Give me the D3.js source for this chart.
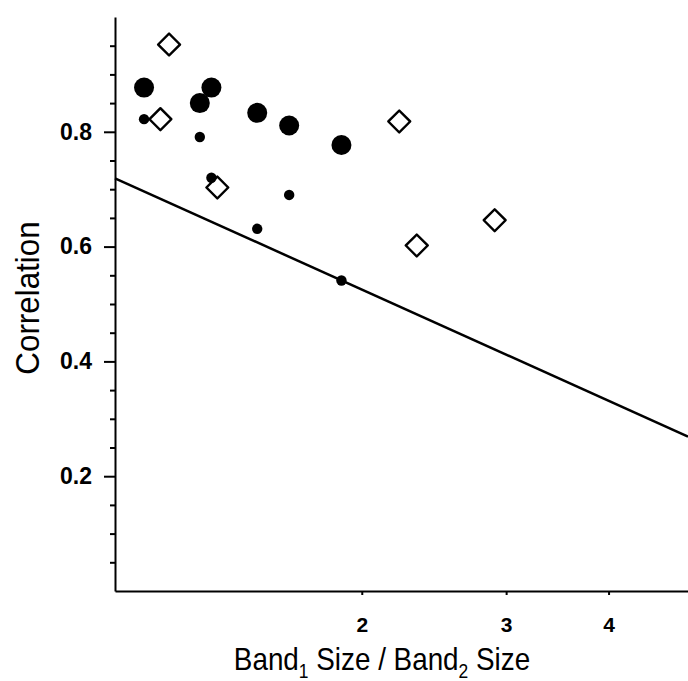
<!DOCTYPE html>
<html lang="en"><head>
<meta charset="utf-8">
<title>correlation vs band size ratio</title>
<script src="https://cdn.jsdelivr.net/npm/d3@7"></script>
<style>
  body { margin: 0; background: #fff; }
  svg { display: block; font-family: "Liberation Sans", Arial, sans-serif; }
</style>
</head>
<body>
<svg width="688" height="681"></svg>
<script>
// values
var bandRatio   = [1.085, 1.269, 1.311, 1.491, 1.631, 1.889];   // x for both circle series
var corrLarge   = [0.877, 0.850, 0.877, 0.833, 0.811, 0.777];
var corrSmall   = [0.822, 0.791, 0.720, 0.631, 0.690, 0.541];
var diamondRatio = [1.136, 1.164, 1.333, 2.222, 2.334, 2.905];
var corrDiamond  = [0.822, 0.952, 0.703, 0.818, 0.602, 0.646];
var fitX = [1, 5];
var fitY = [0.719, 0.269];
var xTicks = [2, 3, 4];
var yTicks = [0.2, 0.4, 0.6, 0.8];
var yMinor = [0.05, 0.1, 0.15, 0.25, 0.3, 0.35, 0.45, 0.5, 0.55, 0.65, 0.7, 0.75, 0.85, 0.9, 0.95];

var svg = d3.select("svg");

var x = d3.scaleLog().domain([1, 5]).range([115, 688]);
var y = d3.scaleLinear().domain([0, 1]).range([591, 17]);

// minor ticks on y
svg.append("g")
    .attr("transform", "translate(115,0)")
    .call(d3.axisLeft(y).tickValues(yMinor).tickSize(5).tickFormat(""))
    .call(function(g){ g.select(".domain").remove(); })
    .selectAll("line").attr("stroke", "#000").attr("stroke-width", 2);

// major y axis
var yAxis = svg.append("g")
    .attr("transform", "translate(115,0)")
    .call(d3.axisLeft(y).tickValues(yTicks).tickSize(11).tickSizeOuter(0).tickPadding(12).tickFormat(d3.format(".1f")));
yAxis.select(".domain").attr("stroke", "#000").attr("stroke-width", 2);
yAxis.selectAll("line").attr("stroke", "#000").attr("stroke-width", 2);
yAxis.selectAll("text")
    .attr("font-size", 23).attr("font-weight", "bold").attr("fill", "#000")
    .attr("font-family", "Liberation Sans, Arial, sans-serif");

// x axis
var xAxis = svg.append("g")
    .attr("transform", "translate(0,591)")
    .call(d3.axisBottom(x).tickValues(xTicks).tickSize(4).tickSizeOuter(0).tickPadding(22).tickFormat(d3.format("d")));
xAxis.select(".domain").attr("stroke", "#000").attr("stroke-width", 2);
xAxis.selectAll("line").attr("stroke", "#000").attr("stroke-width", 2);
xAxis.selectAll("text")
    .attr("font-size", 21).attr("font-weight", "bold").attr("fill", "#000")
    .attr("font-family", "Liberation Sans, Arial, sans-serif");

// fitted line
var fit = fitX.map(function(d, i){ return [d, fitY[i]]; });
svg.append("path")
    .datum(fit)
    .attr("fill", "none")
    .attr("stroke", "#000")
    .attr("stroke-width", 2.5)
    .attr("d", d3.line().x(function(d){ return x(d[0]); }).y(function(d){ return y(d[1]); }));

// open diamonds
var diamonds = diamondRatio.map(function(d, i){ return {x: d, y: corrDiamond[i]}; });
svg.selectAll("path.diamond")
    .data(diamonds)
    .enter().append("path")
    .attr("class", "diamond")
    .attr("d", d3.symbol().type(d3.symbolSquare).size(240))
    .attr("transform", function(d){ return "translate(" + x(d.x) + "," + y(d.y) + ") rotate(45)"; })
    .attr("fill", "#fff")
    .attr("stroke", "#000")
    .attr("stroke-width", 2.4)
    .attr("stroke-linejoin", "round");

// big filled circles
var large = bandRatio.map(function(d, i){ return {x: d, y: corrLarge[i]}; });
svg.selectAll("circle.large")
    .data(large)
    .enter().append("circle")
    .attr("class", "large")
    .attr("cx", function(d){ return x(d.x); })
    .attr("cy", function(d){ return y(d.y); })
    .attr("r", 10)
    .attr("fill", "#000");

// small filled circles
var small = bandRatio.map(function(d, i){ return {x: d, y: corrSmall[i]}; });
svg.selectAll("circle.small")
    .data(small)
    .enter().append("circle")
    .attr("class", "small")
    .attr("cx", function(d){ return x(d.x); })
    .attr("cy", function(d){ return y(d.y); })
    .attr("r", 5.2)
    .attr("fill", "#000");

// axis titles
svg.append("text")
    .attr("transform", "translate(39,298) rotate(-90) scale(0.95,1)")
    .attr("text-anchor", "middle")
    .attr("font-size", 33)
    .attr("fill", "#000")
    .text("Correlation");

var xt = svg.append("text")
    .attr("transform", "translate(382,670) scale(0.87,1)")
    .attr("text-anchor", "middle")
    .attr("font-size", 32)
    .attr("fill", "#000");
xt.append("tspan").text("Band");
xt.append("tspan").attr("font-size", 20).attr("dy", 8).text("1");
xt.append("tspan").attr("dy", -8).text(" Size / Band");
xt.append("tspan").attr("font-size", 20).attr("dy", 8).text("2");
xt.append("tspan").attr("dy", -8).text(" Size");
</script>
</body>
</html>
